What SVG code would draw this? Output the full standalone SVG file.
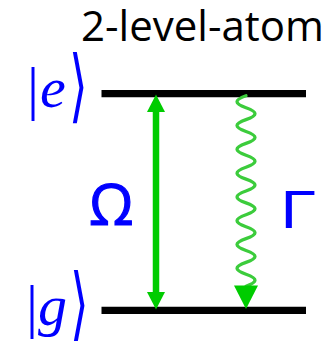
<svg xmlns="http://www.w3.org/2000/svg" width="329" height="341" viewBox="0 0 329 341">
  <style>
    .level { stroke: #000000; stroke-width: 7.3; fill: none; }
    .ket { fill: #0000ff; font-family: "Liberation Serif", "DejaVu Serif", serif; }
    .ket-i { font-style: italic; }
    .bra { fill: #0000ff; font-family: "DejaVu Sans", sans-serif; font-size: 80px; }
    .greek { fill: #0000ff; }
    .omega { stroke: #0000ff; stroke-width: 1.2; font-family: "Open Sans", "DejaVu Sans", sans-serif; }
    .gamma { font-family: "Liberation Sans", "Arial", sans-serif; font-size: 54px; }
    .title { fill: #000000; font-family: "Open Sans", "Liberation Sans", sans-serif; font-size: 42px; }
    .drive { stroke: #00cc00; stroke-width: 6.5; fill: none; }
    .decay { stroke: #3ccc3c; stroke-width: 3.3; fill: none; stroke-linecap: round; }
    .head { fill: #00cc00; }
  </style>
  <defs>
    <marker id="arrowhead" viewBox="0 0 18 18" refX="0.5" refY="9" markerWidth="18" markerHeight="18" markerUnits="userSpaceOnUse" orient="auto-start-reverse">
      <path class="head" d="M0,0 L17.5,9 L0,18 Z"/>
    </marker>
  </defs>

  <g id="title">
    <text class="title" x="81" y="41">2-level-atom</text>
  </g>

  <g id="level-e">
    <line class="level" x1="101.5" y1="93.6" x2="306" y2="93.6"/>
    <text class="ket" x="27" y="108" font-size="60">|</text>
    <text class="ket ket-i" x="40" y="107" font-size="58">e</text>
    <text class="bra" transform="translate(69,113) scale(0.6,1)">⟩</text>
  </g>

  <g id="level-g">
    <line class="level" x1="101.5" y1="310.3" x2="306" y2="310.3"/>
    <text class="ket" x="26" y="326" font-size="60">|</text>
    <text class="ket ket-i" x="38" y="325" font-size="58">g</text>
    <text class="bra" transform="translate(70,331) scale(0.6,1)">⟩</text>
  </g>

  <g id="label-omega">
    <text class="greek omega" x="89" y="225" font-size="57">Ω</text>
  </g>

  <g id="label-gamma">
    <text class="greek gamma" transform="translate(280.6,227.5) scale(1.2,1)">Γ</text>
  </g>

  <g id="connectors">
    <line class="drive" x1="156" y1="111.5" x2="156" y2="292.5" marker-start="url(#arrowhead)" marker-end="url(#arrowhead)"/>
    <path class="decay" d="M246,95.8 c-12,4.3 -12,7.6 0,11.9 c12,4.3 12,7.6 0,11.9 c-12,4.3 -12,7.6 0,11.9 c12,4.3 12,7.6 0,11.9 c-12,4.3 -12,7.6 0,11.9 c12,4.3 12,7.6 0,11.9 c-12,4.3 -12,7.6 0,11.9 c12,4.3 12,7.6 0,11.9 c-12,4.3 -12,7.6 0,11.9 c12,4.3 12,7.6 0,11.9 c-12,4.3 -12,7.6 0,11.9 c12,4.3 12,7.6 0,11.9 c-12,4.3 -12,7.6 0,11.9 c12,4.3 12,7.6 0,11.9 c-12,4.3 -12,7.6 0,11.9 c12,4.3 12,7.6 0,11.9"/>
    <polygon class="head" points="234,285.5 258,285.5 246,309"/>
  </g>
</svg>
